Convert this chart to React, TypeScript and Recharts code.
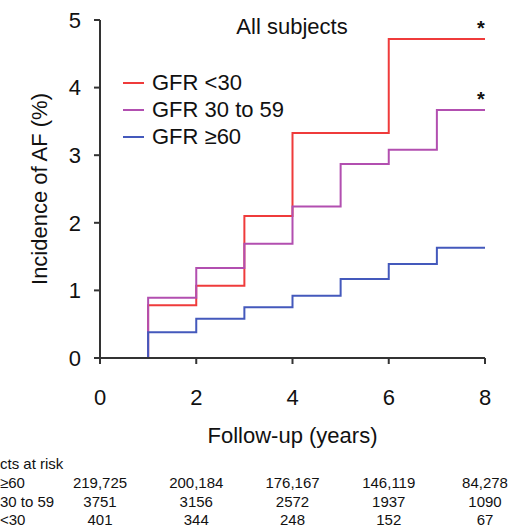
import { LineChart, Line, XAxis, YAxis } from "recharts";

const years = [0, 1, 2, 3, 4, 5, 6, 7, 8];
const gfrLt30 = [0, 0.78, 1.07, 2.1, 3.33, 3.33, 4.72, 4.72, 4.72];
const gfr30to59 = [0, 0.89, 1.33, 1.69, 2.24, 2.87, 3.08, 3.67, 3.67];
const gfrGe60 = [0, 0.38, 0.58, 0.75, 0.92, 1.17, 1.39, 1.63, 1.63];

const xTicks = [0, 2, 4, 6, 8];
const yTicks = [0, 1, 2, 3, 4, 5];

// the left edge of the at-risk table is cropped in the source figure
const riskHeader = "cts at risk";
const riskLabels = ["\u226560", "30 to 59", "<30"];
const riskGe60 = ["219,725", "200,184", "176,167", "146,119", "84,278"];
const risk30to59 = ["3751", "3156", "2572", "1937", "1090"];
const riskLt30 = ["401", "344", "248", "152", "67"];

const FONT = "'Liberation Sans', Arial, sans-serif";
const RED = "#ef3b3b";
const PURPLE = "#b24fb0";
const BLUE = "#4459bc";

const series = [
  { key: "lt30", name: "GFR <30", color: RED, star: true },
  { key: "mid", name: "GFR 30 to 59", color: PURPLE, star: true },
  { key: "ge60", name: "GFR \u226560", color: BLUE, star: false },
];

const data = years.map((y, i) => ({
  year: y,
  lt30: gfrLt30[i],
  mid: gfr30to59[i],
  ge60: gfrGe60[i],
}));

const riskRows = [riskGe60, risk30to59, riskLt30];

function RiskTick(props: any) {
  const { x, y, payload } = props;
  const col = xTicks.indexOf(payload.value);
  return (
    <g fontFamily={FONT} fontSize={15} fill="#111">
      {col === 0 && (
        <>
          <text x={0} y={y + 16}>{riskHeader}</text>
          {riskLabels.map((l, r) => (
            <text key={l} x={0} y={y + 35 + r * 18.5}>{l}</text>
          ))}
        </>
      )}
      {riskRows.map((row, r) => (
        <text key={r} x={x} y={y + 35 + r * 18.5} textAnchor="middle">
          {row[col]}
        </text>
      ))}
    </g>
  );
}

function StarLabel(props: any) {
  const { x, y, index } = props;
  if (index !== years.length - 1) return null;
  return (
    <text x={x - 4} y={y - 4} textAnchor="middle" fontFamily={FONT} fontSize={20} fontWeight="bold" fill="#111">
      *
    </text>
  );
}

export default function App() {
  return (
    <div style={{ position: "absolute", left: 0, top: 0, width: 514, height: 528, background: "#fff" }}>
      <LineChart width={514} height={528} data={data} margin={{ top: 20, right: 29, left: 0, bottom: 0 }}>
        <XAxis
          dataKey="year"
          type="number"
          domain={[0, 8]}
          ticks={xTicks}
          height={95}
          tickSize={6}
          tickMargin={25}
          stroke="#333"
          strokeWidth={2}
          tick={{ fontSize: 22, fill: "#111", fontFamily: FONT }}
          label={{ value: "Follow-up (years)", position: "insideBottom", offset: 10, fontSize: 22, fill: "#111", fontFamily: FONT }}
        />
        <XAxis
          xAxisId="risk"
          dataKey="year"
          type="number"
          domain={[0, 8]}
          ticks={xTicks}
          height={75}
          axisLine={false}
          tickLine={false}
          tickSize={0}
          tickMargin={0}
          tick={<RiskTick />}
        />
        <YAxis
          domain={[0, 5]}
          ticks={yTicks}
          width={100}
          tickSize={6}
          tickMargin={13}
          stroke="#333"
          strokeWidth={2}
          tick={{ fontSize: 22, fill: "#111", fontFamily: FONT }}
          label={{ value: "Incidence of AF (%)", angle: -90, position: "center", dx: -11, fontSize: 22, fill: "#111", fontFamily: FONT }}
        />
        {series.map((s) => (
          <Line
            key={s.key}
            dataKey={s.key}
            name={s.name}
            type="stepAfter"
            stroke={s.color}
            strokeWidth={2}
            dot={false}
            activeDot={false}
            isAnimationActive={false}
            label={s.star ? <StarLabel /> : undefined}
          />
        ))}
      </LineChart>
      <div
        style={{
          position: "absolute",
          left: 192,
          top: 16,
          width: 200,
          textAlign: "center",
          fontFamily: FONT,
          fontSize: 22,
          lineHeight: "22px",
          color: "#111",
        }}
      >
        All subjects
      </div>
      <div style={{ position: "absolute", left: 123, top: 69, fontFamily: FONT, fontSize: 22, color: "#111" }}>
        {series.map((s) => (
          <div key={s.key} style={{ height: 27, display: "flex", alignItems: "center" }}>
            <span style={{ display: "inline-block", width: 21, height: 2, background: s.color, marginRight: 8 }} />
            <span>{s.name}</span>
          </div>
        ))}
      </div>
    </div>
  );
}
